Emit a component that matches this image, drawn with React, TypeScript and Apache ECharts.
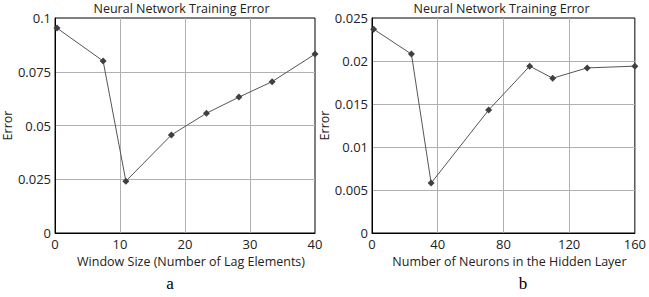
import React, { useEffect, useRef } from "react";
import * as echarts from "echarts";

const windowSizes = [0.3, 7.4, 10.9, 17.9, 23.3, 28.3, 33.4, 40];
const windowErrors = [0.0953, 0.0800, 0.0241, 0.0456, 0.0557, 0.0632, 0.0704, 0.0832];

const neuronCounts = [1, 24, 36, 71, 96, 110, 131, 160];
const neuronErrors = [0.0237, 0.0208, 0.0058, 0.0143, 0.0194, 0.0180, 0.0192, 0.0194];

const chartTitle = "Neural Network Training Error";
const xNameA = "Window Size (Number of Lag Elements)";
const xNameB = "Number of Neurons in the Hidden Layer";
const yName = "Error";
const panelLabels = ["a", "b"];

const FONT = "'Open Sans', 'Noto Sans', sans-serif";

export default function App() {
  const ref = useRef<HTMLDivElement>(null);
  useEffect(() => {
    if (!ref.current) return;
    const chart = echarts.init(ref.current, null, { renderer: "svg" });
    const grids = [
      { left: 52, top: 18, width: 263, height: 215 },
      { left: 372, top: 18, width: 263, height: 215 },
    ];
    const xAxisBase = (gi: number, max: number, interval: number, name: string) => ({
      type: "value" as const,
      gridIndex: gi,
      min: 0,
      max,
      interval,
      name,
      nameLocation: "middle" as const,
      nameGap: 22,
      nameTextStyle: { fontFamily: FONT, fontSize: 12.5, color: "#222", padding: [0, 0, 0, 12] },
      axisLine: { show: true, onZero: false, lineStyle: { color: "#000", width: 1 } },
      axisTick: { show: false },
      axisLabel: { fontFamily: FONT, fontSize: 13, color: "#222", margin: 4 },
      splitLine: { show: true, showMinLine: false, showMaxLine: false, lineStyle: { color: "#b0b0b0", width: 1 } },
    });
    const yAxisBase = (gi: number, max: number, interval: number, gap: number) => ({
      type: "value" as const,
      gridIndex: gi,
      min: 0,
      max,
      interval,
      name: yName,
      nameLocation: "middle" as const,
      nameGap: gap,
      nameRotate: 90,
      nameTextStyle: { fontFamily: FONT, fontSize: 12.5, color: "#222" },
      axisLine: { show: true, onZero: false, lineStyle: { color: "#000", width: 1 } },
      axisTick: { show: false },
      axisLabel: { fontFamily: FONT, fontSize: 13, color: "#222", margin: 4 },
      splitLine: { show: true, showMinLine: false, showMaxLine: false, lineStyle: { color: "#b0b0b0", width: 1 } },
    });
    const seriesBase = (gi: number, xs: number[], ys: number[]) => ({
      type: "line" as const,
      xAxisIndex: gi,
      yAxisIndex: gi,
      data: xs.map((x, i) => [x, ys[i]]),
      symbol: "diamond",
      symbolSize: 7,
      itemStyle: { color: "#404040" },
      lineStyle: { color: "#555", width: 1 },
    });
    const titleStyle = { fontFamily: FONT, fontSize: 12.5, fontWeight: "normal", color: "#222" };
    chart.setOption({
      animation: false,
      backgroundColor: "#fff",
      title: [
        { text: chartTitle, left: 176.5, top: -3, textAlign: "center", textStyle: titleStyle },
        { text: chartTitle, left: 496.5, top: -3, textAlign: "center", textStyle: titleStyle },
      ],
      grid: grids.map((g) => ({ ...g, show: true, borderColor: "#000", borderWidth: 1, backgroundColor: "transparent" })),
      xAxis: [xAxisBase(0, 40, 10, xNameA), xAxisBase(1, 160, 40, xNameB)],
      yAxis: [yAxisBase(0, 0.1, 0.025, 33), yAxisBase(1, 0.025, 0.005, 40)],
      series: [seriesBase(0, windowSizes, windowErrors), seriesBase(1, neuronCounts, neuronErrors)],
      graphic: [
        { type: "text", x: 170, y: 283, style: { text: panelLabels[0], font: "17px 'Liberation Serif', serif", fill: "#000", textAlign: "center", textVerticalAlign: "middle" } },
        { type: "text", x: 523, y: 283, style: { text: panelLabels[1], font: "17px 'Liberation Serif', serif", fill: "#000", textAlign: "center", textVerticalAlign: "middle" } },
      ],
    });
    return () => chart.dispose();
  }, []);
  return <div ref={ref} style={{ position: "absolute", left: 0, top: 0, width: 649, height: 297 }} />;
}
